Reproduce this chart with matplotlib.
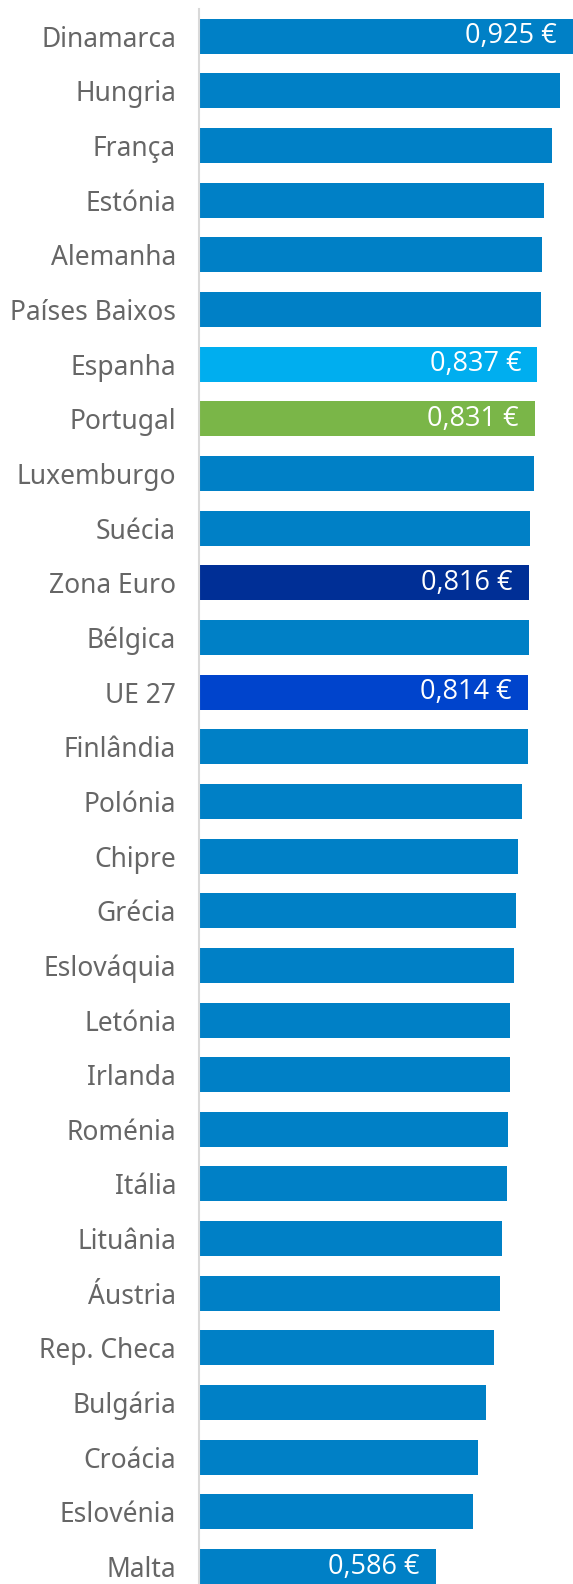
import matplotlib.pyplot as plt

# preço médio da eletricidade (€/kWh), do maior para o menor
paises = ["Dinamarca", "Hungria", "França", "Estónia", "Alemanha", "Países Baixos",
          "Espanha", "Portugal", "Luxemburgo", "Suécia", "Zona Euro", "Bélgica",
          "UE 27", "Finlândia", "Polónia", "Chipre", "Grécia", "Eslováquia",
          "Letónia", "Irlanda", "Roménia", "Itália", "Lituânia", "Áustria",
          "Rep. Checa", "Bulgária", "Croácia", "Eslovénia", "Malta"]
valores = [0.925, 0.893, 0.873, 0.853, 0.848, 0.846,
           0.837, 0.831, 0.828, 0.818, 0.816, 0.815,
           0.814, 0.813, 0.798, 0.790, 0.785, 0.780,
           0.770, 0.768, 0.764, 0.762, 0.749, 0.745,
           0.730, 0.711, 0.689, 0.677, 0.586]
destaques = {"Espanha": "#00AEEF", "Portugal": "#7AB648",
             "Zona Euro": "#002F96", "UE 27": "#0044CC"}
com_rotulo = ["Dinamarca", "Espanha", "Portugal", "Zona Euro", "UE 27", "Malta"]

W, H = 573, 1584
fig = plt.figure(figsize=(W / 100, H / 100), dpi=100)
ax = fig.add_axes([199 / W, 0, 1 - 199 / W, (H - 9) / H])

cores = [destaques.get(p, "#0080C6") for p in paises]
y = list(range(len(paises)))
ax.barh(y, valores, height=0.64, color=cores)

for i, (p, v) in enumerate(zip(paises, valores)):
    if p in com_rotulo:
        txt = f"{v:.3f}".replace(".", ",") + " €"
        ax.annotate(txt, (v, i), xytext=(-16, 0), textcoords="offset pixels",
                    ha="right", va="center", color="white", fontsize=19.5,
                    family=["Open Sans", "DejaVu Sans"])

ax.set_xlim(0, 0.925)
ax.set_ylim(len(paises) - 1 + 0.32, -0.5)
ax.set_yticks(y)
ax.set_yticklabels(paises, fontsize=19, color="#666666", family="Noto Sans")
ax.tick_params(axis="y", length=0, pad=16.5)
ax.set_xticks([])
for s in ["top", "right", "bottom"]:
    ax.spines[s].set_visible(False)
ax.spines["left"].set_color("#d9d9d9")
ax.spines["left"].set_linewidth(1.5)

fig.savefig("out.png", dpi=100)
